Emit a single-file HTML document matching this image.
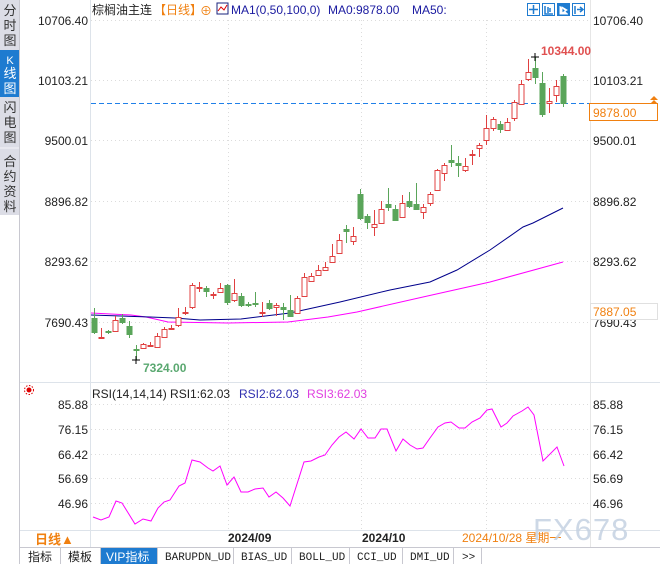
<!DOCTYPE html>
<html><head><meta charset="utf-8"><style>
body{margin:0;background:#fff;width:660px;height:564px;overflow:hidden;font-family:"Liberation Sans","Noto Sans CJK SC",sans-serif}
svg{display:block}
</style></head><body>
<svg id="s" width="660" height="564" xmlns="http://www.w3.org/2000/svg" font-family="Liberation Sans, Noto Sans CJK SC, sans-serif">
<rect width="660" height="564" fill="#fff"/>
<rect x="0" y="0" width="19" height="215" fill="#dcdde6"/>
<rect x="0" y="50" width="19" height="47" fill="#1e7bd0"/>
<line x1="0" y1="148" x2="19" y2="148" stroke="#f4f4f8"/>
<line x1="19.5" y1="0" x2="19.5" y2="564" stroke="#c8c8d0"/>
<g font-size="13" fill="#333" text-anchor="middle">
<text x="10" y="15">分</text><text x="10" y="30">时</text><text x="10" y="45">图</text>
<text x="10" y="64" fill="#fff" font-size="11">K</text><text x="10" y="78" fill="#fff">线</text><text x="10" y="93" fill="#fff">图</text>
<text x="10" y="112">闪</text><text x="10" y="127">电</text><text x="10" y="142">图</text>
<text x="10" y="166">合</text><text x="10" y="181">约</text><text x="10" y="196">资</text><text x="10" y="211">料</text>
</g>
<line x1="90.5" y1="0" x2="90.5" y2="547" stroke="#dde3ea"/>
<line x1="590.5" y1="0" x2="590.5" y2="547" stroke="#e6e6e6"/>
<line x1="20" y1="382.5" x2="660" y2="382.5" stroke="#dde3ea"/>
<line x1="20" y1="530.5" x2="660" y2="530.5" stroke="#dde3ea"/>
<line x1="20" y1="547.5" x2="660" y2="547.5" stroke="#c8c8d0"/>
<g id="grid" stroke="#dcdcdc" stroke-dasharray="1,3"></g>
<text x="92" y="14" font-size="12" fill="#222">棕榈油主连</text>
<text x="154" y="14" font-size="12" fill="#f08010">【日线】</text>
<text x="200" y="15" font-size="12" fill="#f08010">⊕</text>
<rect x="217" y="3" width="11" height="11" fill="#fff" stroke="#1a237e"/>
<polyline points="218,11 221,7 224,10 227,5" fill="none" stroke="#d00" stroke-width="1"/>
<text x="231" y="14" font-size="12" fill="#1a1aa0">MA1(0,50,100,0)</text>
<text x="328" y="14" font-size="12" fill="#1a1aa0">MA0:9878.00</text>
<text x="412" y="14" font-size="12" fill="#1a1aa0">MA50:</text>
<g fill="#fff" stroke="#1e7bd0">
<rect x="527.5" y="3.5" width="12" height="12"/><rect x="542.5" y="3.5" width="12" height="12"/>
<rect x="557.5" y="3.5" width="12" height="12" fill="#1e7bd0"/><rect x="572.5" y="3.5" width="12" height="12"/>
</g>
<g stroke="#1e7bd0" stroke-width="1.5" fill="none">
<path d="M533.5 5v9M529 9.5h9"/><path d="M545 6v8h8M548 7v6M550 8v4"/><path d="M575 6v8M577 9.5h5M580 7l3 2.5-3 2.5"/>
</g>
<path d="M560 6v8h8M562 7l5 3-5 3z" stroke="#fff" fill="#fff"/>
<g id="lab" font-size="12" fill="#222"></g>
<line x1="91" y1="103.5" x2="590" y2="103.5" stroke="#2080e8" stroke-dasharray="5,3"/>
<g id="ma"></g>
<g id="cd"></g>
<text x="541" y="55" font-size="12" font-weight="bold" fill="#e05050">10344.00</text>
<path d="M531 57h8M535 53v8" stroke="#000"/>
<text x="143" y="372" font-size="12" font-weight="bold" fill="#5aa870">7324.00</text>
<path d="M132 360h8M136 356v8" stroke="#000"/>
<rect x="589.5" y="103.5" width="68" height="17" fill="#fff" stroke="#f08010"/>
<text x="593" y="117" font-size="12" fill="#f08010">9878.00</text>
<path d="M650 100l4-4 4 4zM650 104l4-4 4 4z" fill="#f08010"/>
<text x="593" y="327" font-size="12" fill="#222">7690.43</text>
<rect x="590.5" y="303.5" width="67" height="16" fill="#fff" stroke="#e0e0e0"/>
<text x="593" y="316" font-size="12" fill="#f08010">7887.05</text>
<circle cx="29" cy="390" r="2.5" fill="#d00"/>
<circle cx="29" cy="390" r="4.5" fill="none" stroke="#d00" stroke-dasharray="1.5,1.5"/>
<text x="92" y="398" font-size="12" fill="#222">RSI(14,14,14) RSI1:62.03</text>
<text x="239" y="398" font-size="12" fill="#3030b0">RSI2:62.03</text>
<text x="307" y="398" font-size="12" fill="#e040e0">RSI3:62.03</text>
<polyline fill="none" stroke="#f0f" stroke-width="1" points="93,517 101,520 109,517 116,501 122,503 135,524 143,519 151,521 158,508 164,502 170,500 179,486 185,483 192,460 200,462 208,468 213,471 220,466 227,485 234,477 241,492 248,492 255,489 263,488 269,497 276,492 283,498 290,506 304,462 311,461 319,457 325,455 332,445 339,437 346,432 354,439 361,429 368,438 375,438 381,429 387,429 396,451 403,439 410,445 417,449 423,448 430,438 438,427 445,423 451,422 459,428 465,428 472,422 480,418 487,410 492,409 501,427 507,423 513,416 522,411 528,407 534,415 543,461 557,447 564,466"/>
<text x="35" y="544" font-size="13" font-weight="bold" fill="#f08010">日线▲</text>
<line x1="90.5" y1="531" x2="90.5" y2="547" stroke="#dde3ea"/>
<text x="228" y="542" font-size="12" font-weight="bold" fill="#222">2024/09</text>
<text x="362" y="542" font-size="12" font-weight="bold" fill="#222">2024/10</text>
<text x="462" y="542" font-size="12" fill="#f08010">2024/10/28 星期一</text>
<text x="533" y="540" font-size="31" fill="#c5d2e2" opacity="0.85" letter-spacing="1">FX678</text>
<g font-size="12" fill="#222">
<rect x="100" y="548" width="57" height="16" fill="#1e7bd0"/>
<g stroke="#c8c8d0"><path d="M60.5 548v16M100.5 548v16M157.5 548v16M233.5 548v16M291.5 548v16M349.5 548v16M402.5 548v16M453.5 548v16M481.5 548v16"/></g>
<text x="28" y="561">指标</text><text x="68" y="561">模板</text>
<text x="106" y="561" fill="#fff">VIP指标</text>
<g font-family="Liberation Mono, monospace" font-size="11">
<text x="165" y="560">BARUPDN_UD</text><text x="241" y="560">BIAS_UD</text><text x="299" y="560">BOLL_UD</text><text x="357" y="560">CCI_UD</text><text x="410" y="560">DMI_UD</text><text x="462" y="560">&gt;&gt;</text>
</g></g>
</svg>
<script>
var NS="http://www.w3.org/2000/svg";
function el(p,t,a,txt){var e=document.createElementNS(NS,t);for(var k in a)e.setAttribute(k,a[k]);if(txt)e.textContent=txt;document.getElementById(p).appendChild(e);return e;}
var py=[20,80,140,201,261,322],pl=["10706.40","10103.21","9500.01","8896.82","8293.62","7690.43"];
py.forEach(function(y,i){el("grid","line",{x1:91,x2:590,y1:y+.5,y2:y+.5});el("lab","text",{x:88,y:y+5,"text-anchor":"end"},pl[i]);if(i<5)el("lab","text",{x:593,y:y+5},pl[i]);});
var ry=[404,429,454,478,503],rl=["85.88","76.15","66.42","56.69","46.96"];
ry.forEach(function(y,i){el("grid","line",{x1:91,x2:590,y1:y+.5,y2:y+.5});el("lab","text",{x:88,y:y+5,"text-anchor":"end"},rl[i]);el("lab","text",{x:593,y:y+5},rl[i]);});
[228,361,486].forEach(function(x){el("grid","line",{x1:x+.5,x2:x+.5,y1:20,y2:530});});
el("ma","polyline",{fill:"none",stroke:"#f0f","stroke-width":1,points:"91,313 131,315 146,317 155,319 168,322 228,323 288,322 328,317 357,312 423,297 490,282 563,262"});
el("ma","polyline",{fill:"none",stroke:"#00008b","stroke-width":1,points:"91,315 150,317 175,318 200,320 241,319 290,313 340,302 390,290 430,282 457,270 490,250 523,227 533,223 563,208"});
var C=[[318,333,308,334,0],[337,338,328,339,1],[331,333,330,334,0],[320,331,316,331,1],[318,323,314,324,0],[326,335,321,338,0],[349,351,345,360,0],[344,348,343,349,1],[345,346,342,347,1],[336,347,333,347,1],[329,337,327,338,1],[328,329,325,330,1],[317,325,308,327,1],[312,313,307,315,1],[285,307,283,309,1],[287,288,282,292,1],[288,292,286,297,0],[294,295,292,299,1],[288,292,283,292,1],[285,303,284,305,0],[293,300,279,302,1],[296,306,293,307,0],[304,306,302,307,0],[303,305,292,307,0],[312,313,302,317,1],[303,309,300,310,0],[305,307,303,316,1],[307,310,303,320,0],[310,317,295,317,0],[298,313,296,314,1],[277,296,273,297,1],[276,281,273,282,1],[270,275,265,276,1],[267,270,262,271,1],[256,262,244,263,1],[240,253,234,254,1],[229,232,225,243,0],[236,241,227,245,1],[194,219,189,220,0],[216,223,214,229,0],[224,227,210,236,1],[209,223,201,223,1],[204,208,188,211,0],[209,221,205,221,0],[203,217,195,218,1],[201,207,192,208,0],[204,210,183,210,0],[207,212,204,219,1],[194,203,192,206,1],[170,190,169,191,1],[165,173,163,181,1],[160,163,145,167,0],[163,166,156,177,0],[166,170,158,172,1],[154,155,150,165,1],[145,148,143,157,1],[128,140,115,145,1],[119,128,117,131,1],[124,130,121,133,0],[122,130,118,131,1],[102,118,100,121,1],[84,104,80,105,1],[72,79,59,81,1],[68,78,57,84,0],[83,115,72,117,0],[101,103,88,113,1],[86,95,80,102,1],[76,104,74,107,0]];
C.forEach(function(c,i){var x=94+7*i;var col=c[4]?"#e04040":"#5aa55a";
el("cd","line",{x1:x+.5,x2:x+.5,y1:c[2],y2:c[3],stroke:col});
var h=Math.max(1,c[1]-c[0]);
if(c[4])el("cd","rect",{x:x-2,y:c[0]+.5,width:5,height:h,fill:"#fff",stroke:col});
else el("cd","rect",{x:x-2.5,y:c[0],width:6,height:h,fill:col});});
</script>
</body></html>
